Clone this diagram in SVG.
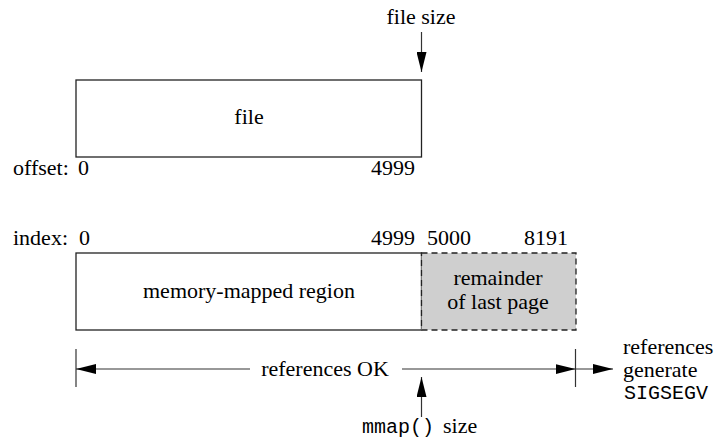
<svg xmlns="http://www.w3.org/2000/svg" width="718" height="440" viewBox="0 0 718 440">
<style>
.t{font-family:"Liberation Serif","DejaVu Serif",serif;font-size:22px;fill:#000}
.m{font-family:"Liberation Mono","DejaVu Sans Mono",monospace;font-size:20px;fill:#000}
.box{fill:#fff;stroke:#222;stroke-width:1.3}
.gray{fill:#cfcfcf;stroke:#222;stroke-width:1.3;stroke-dasharray:6 4}
.ln{stroke:#333;stroke-width:1.2;fill:none}
</style>
<defs>
<marker id="ah" viewBox="0 0 20 10" refX="20" refY="5" markerWidth="20" markerHeight="10" markerUnits="userSpaceOnUse" orient="auto">
<path d="M0,0 L20,5 L0,10 Z" fill="#000"/>
</marker>
</defs>
<g id="labels">
<text class="t" x="421" y="24" text-anchor="middle">file size</text>
<text class="t" x="13" y="175">offset:</text>
<text class="t" x="78" y="175">0</text>
<text class="t" x="415" y="175" text-anchor="end">4999</text>
<text class="t" x="13" y="245">index:</text>
<text class="t" x="79" y="245">0</text>
<text class="t" x="415" y="245" text-anchor="end">4999</text>
<text class="t" x="427" y="245">5000</text>
<text class="t" x="568" y="245" text-anchor="end">8191</text>
</g>
<g id="file">
<rect class="box" x="76" y="80" width="345.5" height="77"/>
<text class="t" x="249" y="124" text-anchor="middle">file</text>
</g>
<g id="mapped">
<rect class="box" x="76" y="253" width="345.5" height="77"/>
<text class="t" x="249" y="298" text-anchor="middle">memory-mapped region</text>
</g>
<g id="remainder">
<rect class="gray" x="421.5" y="253" width="154.5" height="77"/>
<text class="t" x="498" y="285" text-anchor="middle">remainder</text>
<text class="t" x="498" y="309" text-anchor="middle">of last page</text>
</g>
<g id="connectors">
<line class="ln" x1="421.5" y1="32" x2="421.5" y2="72" marker-end="url(#ah)"/>
<line class="ln" x1="76" y1="349" x2="76" y2="387"/>
<line class="ln" x1="575.5" y1="349" x2="575.5" y2="387"/>
<line class="ln" x1="250" y1="369" x2="76" y2="369" marker-end="url(#ah)"/>
<line class="ln" x1="402" y1="369" x2="575.5" y2="369" marker-end="url(#ah)"/>
<line class="ln" x1="575.5" y1="369" x2="613" y2="369" marker-end="url(#ah)"/>
<line class="ln" x1="421.5" y1="417" x2="421.5" y2="377" marker-end="url(#ah)"/>
</g>
<g id="annotations">
<text class="t" x="325" y="376" text-anchor="middle">references OK</text>
<text class="m" x="362" y="433">mmap()</text>
<text class="t" x="443" y="433">size</text>
<text class="t" x="623" y="354">references</text>
<text class="t" x="623" y="377">generate</text>
<text class="m" x="624" y="399">SIGSEGV</text>
</g>
</svg>
